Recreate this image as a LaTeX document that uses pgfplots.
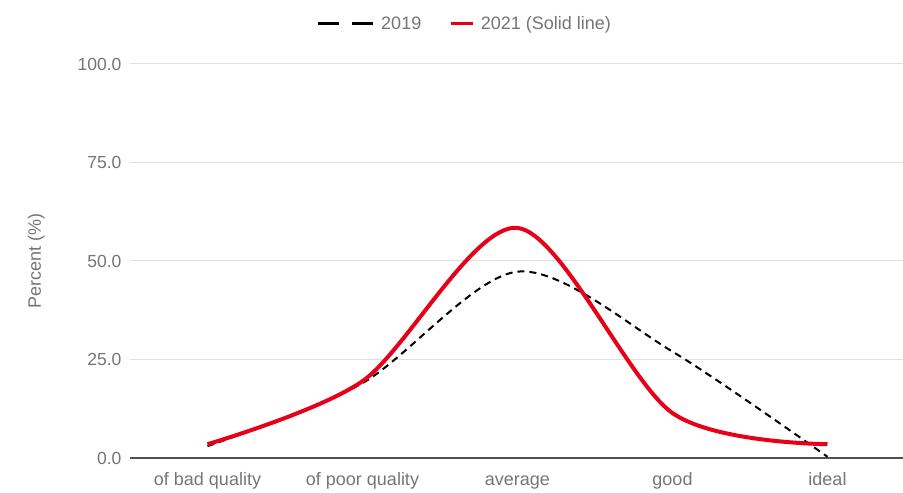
\documentclass[border=0pt]{standalone}
\usepackage{pgfplots}
\pgfplotsset{compat=1.18}
\usepackage{fontspec}
\setmainfont{Liberation Sans}
\definecolor{txtgrey}{RGB}{117,117,117}
\definecolor{gridgrey}{RGB}{224,224,224}
\definecolor{axisgrey}{RGB}{80,80,80}
\definecolor{redline}{RGB}{232,0,24}
\begin{document}
\begin{tikzpicture}
\useasboundingbox (-130pt,-35pt) rectangle (773pt,458pt);
\begin{axis}[
  at={(0pt,0pt)}, anchor=south west,
  scale only axis, width=775pt, height=394pt,
  xmin=-0.5, xmax=4.5, ymin=0, ymax=100,
  xtick={0,1,2,3,4},
  xticklabels={of bad quality, of poor quality, average, good, ideal},
  ytick={0,25,50,75,100},
  yticklabel={\pgfmathprintnumber[fixed,fixed zerofill,precision=1]{\tick}},
  /pgf/number format/assume math mode=true,
  major tick length=0pt,
  axis line style={draw=none},
  ymajorgrids, grid style={gridgrey, line width=1pt},
  tick label style={text=txtgrey},
  xticklabel style={font=\fontsize{18}{20}\selectfont, text height=1.5ex, text depth=0.3ex, yshift=-16pt},
  yticklabel style={font=\fontsize{17.5}{20}\selectfont, xshift=-5pt},
  ylabel={Percent (\%)},
  ylabel style={at={(axis description cs:-0.121,0.5)}, anchor=center, font=\fontsize{18}{20}\selectfont, text=txtgrey},
  legend columns=2,
  legend style={draw=none, at={(axis description cs:0.432,1)}, anchor=south, yshift=29pt,
    font=\fontsize{18}{20}\selectfont, text=txtgrey,
    /tikz/every even column/.append style={column sep=26pt},
    /tikz/every odd column/.append style={column sep=4pt}},
  clip=false,
]
\addplot[axisgrey, line width=1.6pt, forget plot] coordinates {(-0.5,0) (4.5,0)};
\addplot[black, line width=2pt, dash pattern=on 7pt off 5pt, smooth, tension=0.5,
  legend image code/.code={\draw[black, line width=3.5pt, dash pattern=on 21pt off 13pt] (0pt,0pt) -- (55pt,0pt);}]
  coordinates {(0,3.0) (1,19.0) (2,47.3) (3,27.0) (4,0.3)};
\addlegendentry{2019}
\addplot[redline, line width=4pt, smooth, tension=0.5,
  legend image code/.code={\draw[redline, line width=3.5pt] (0pt,0pt) -- (22pt,0pt);}]
  coordinates {(0,3.5) (1,19.5) (2,58.4) (3,11.4) (4,3.5)};
\addlegendentry{2021 (Solid line)}
\end{axis}
\end{tikzpicture}
\end{document}
